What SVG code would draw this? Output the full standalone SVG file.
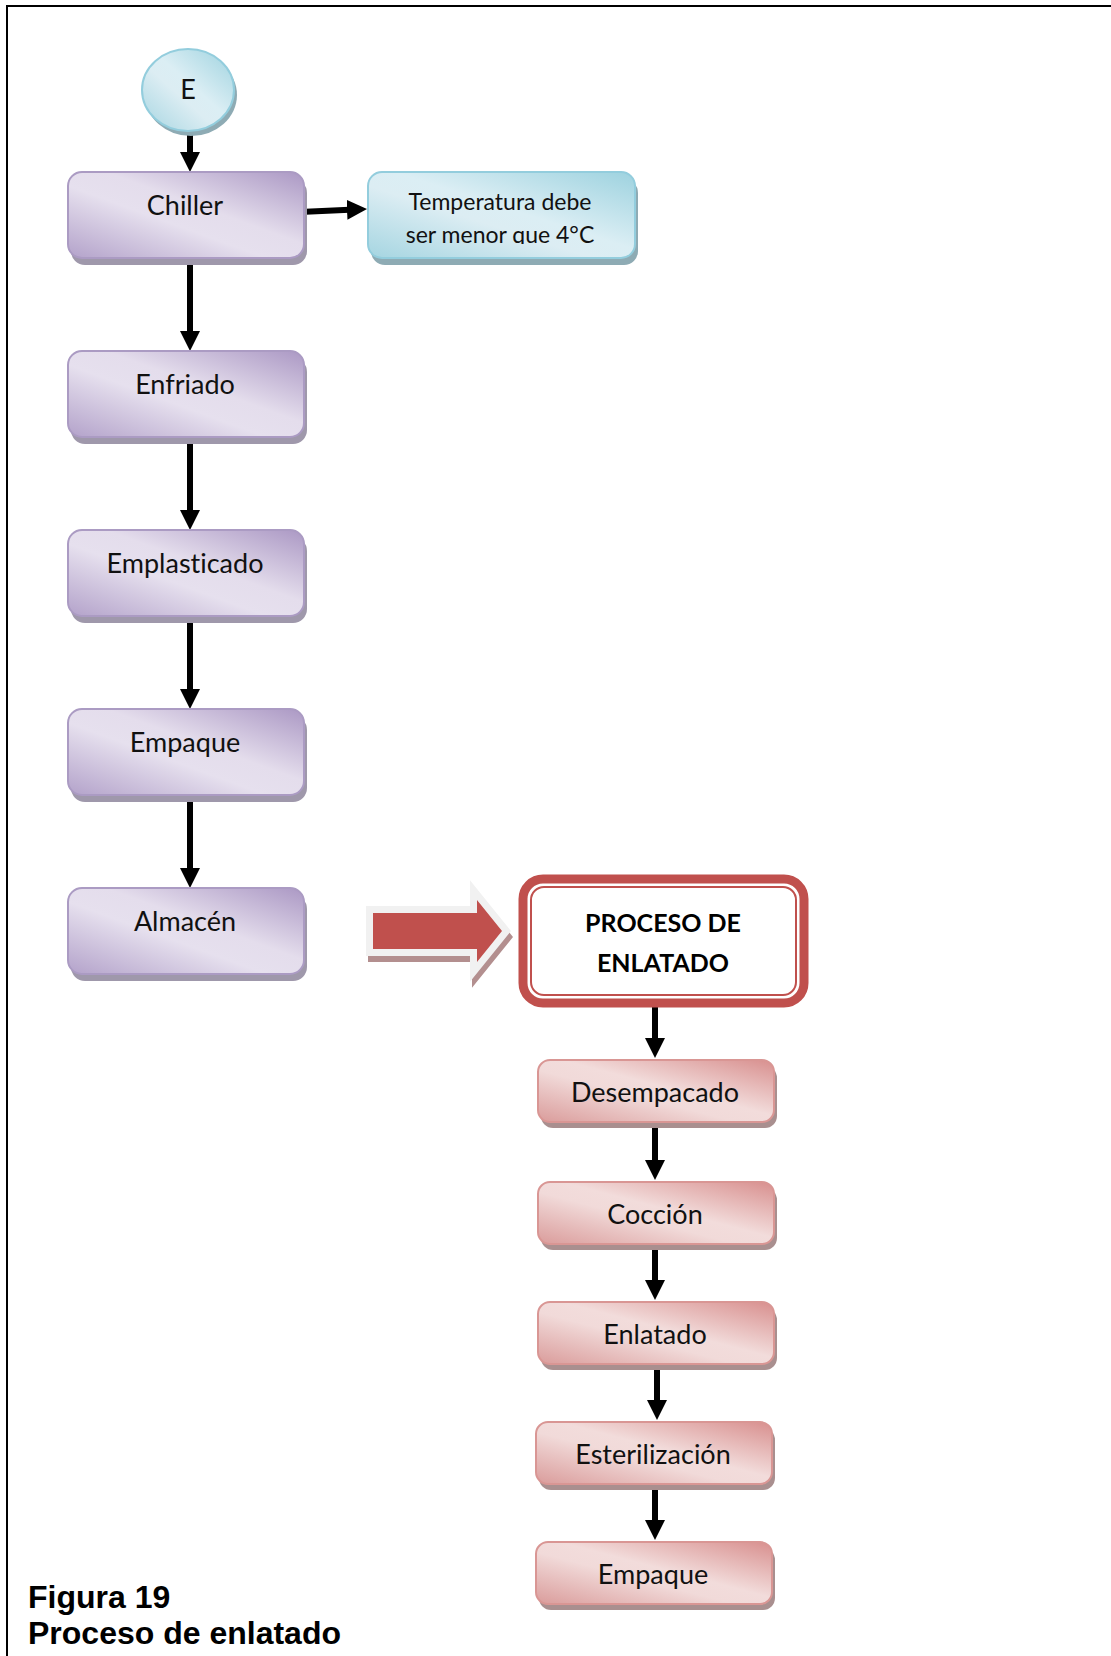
<svg xmlns="http://www.w3.org/2000/svg" width="1111" height="1656" viewBox="0 0 1111 1656">
  <defs>
    <style>
      .lbl { font-family: Lato, "Noto Sans", "DejaVu Sans", sans-serif; font-size: 27px; fill: #111; text-anchor: middle; font-variant-ligatures: none; }
      .note { font-family: Lato, "Noto Sans", "DejaVu Sans", sans-serif; font-size: 23px; fill: #111; text-anchor: middle; font-variant-ligatures: none; }
      .head { font-family: Lato, "Noto Sans", "DejaVu Sans", sans-serif; font-size: 25px; font-weight: bold; fill: #000; text-anchor: middle; }
      .cap { font-family: "Liberation Sans", Arial, sans-serif; font-size: 32px; font-weight: bold; fill: #000; }
      .pbox { fill: url(#gPurple); stroke: #ab9bc3; stroke-width: 2; }
      .pshadow { fill: #9f98ab; }
      .bbox { fill: url(#gBlue); stroke: #93cddd; stroke-width: 2; }
      .bshadow { fill: #8eabb4; }
      .rbox { fill: url(#gRed); stroke: #d99694; stroke-width: 2; }
      .rshadow { fill: #a98f8f; }
      .conn { fill: none; stroke: #000; stroke-width: 6; marker-end: url(#arrow); }
    </style>
    <linearGradient id="gPurple" x1="1" y1="0" x2="0" y2="1">
      <stop offset="0" stop-color="#ab98c4"/>
      <stop offset="0.42" stop-color="#e4ddec"/>
      <stop offset="0.58" stop-color="#e6e0ee"/>
      <stop offset="1" stop-color="#b3a2ca"/>
    </linearGradient>
    <linearGradient id="gBlue" x1="1" y1="0" x2="0" y2="1">
      <stop offset="0" stop-color="#9dd2df"/>
      <stop offset="0.45" stop-color="#dbeef4"/>
      <stop offset="0.58" stop-color="#dcedf3"/>
      <stop offset="1" stop-color="#a5d5e1"/>
    </linearGradient>
    <linearGradient id="gRed" x1="1" y1="0" x2="0" y2="1">
      <stop offset="0" stop-color="#d88f8e"/>
      <stop offset="0.45" stop-color="#f2dcdb"/>
      <stop offset="0.58" stop-color="#f1dad9"/>
      <stop offset="1" stop-color="#da9c9b"/>
    </linearGradient>
    <marker id="arrow" viewBox="0 0 20 20" refX="8" refY="10" markerWidth="20" markerHeight="20" markerUnits="userSpaceOnUse" orient="auto">
      <path d="M0,0 L20,10 L0,20 z" fill="#000"/>
    </marker>
    <clipPath id="noteClip">
      <rect x="368" y="172" width="267" height="72"/>
    </clipPath>
  </defs>

  <!-- page frame -->
  <g id="frame" stroke="#000" stroke-width="2" fill="none">
    <line x1="7" y1="6" x2="1111" y2="6"/>
    <line x1="7" y1="5" x2="7" y2="1656"/>
  </g>

  <!-- connectors -->
  <g id="connectors">
    <path class="conn" d="M300,212 L355,209.5"/>
    <path class="conn" d="M190,133 V160"/>
    <path class="conn" d="M190,260 V339"/>
    <path class="conn" d="M190,439 V518"/>
    <path class="conn" d="M190,618 V697"/>
    <path class="conn" d="M190,797 V876"/>
    <path class="conn" d="M655,1005 V1046"/>
    <path class="conn" d="M655,1124 V1168"/>
    <path class="conn" d="M655,1246 V1288"/>
    <path class="conn" d="M657,1366 V1408"/>
    <path class="conn" d="M655,1486 V1528"/>
  </g>

  <!-- start terminal -->
  <g id="node-E">
    <ellipse cx="191" cy="95" rx="46" ry="41" class="bshadow"/>
    <ellipse cx="188" cy="90" rx="46" ry="41" class="bbox"/>
    <text x="188" y="99" class="lbl">E</text>
  </g>

  <g id="node-chiller">
    <rect x="71" y="179" width="236" height="86" rx="14" class="pshadow"/>
    <rect x="68" y="172" width="236" height="86" rx="14" class="pbox"/>
    <text x="185" y="215" class="lbl">Chiller</text>
  </g>

  <g id="node-temperatura">
    <rect x="371" y="179" width="267" height="86" rx="14" class="bshadow"/>
    <rect x="368" y="172" width="267" height="86" rx="14" class="bbox"/>
    <g clip-path="url(#noteClip)">
      <text x="500" y="210" class="note">Temperatura debe</text>
      <text x="500" y="243" class="note">ser menor que 4°C</text>
    </g>
  </g>

  <g id="node-enfriado">
    <rect x="71" y="358" width="236" height="86" rx="14" class="pshadow"/>
    <rect x="68" y="351" width="236" height="86" rx="14" class="pbox"/>
    <text x="185" y="394" class="lbl">Enfriado</text>
  </g>

  <g id="node-emplasticado">
    <rect x="71" y="537" width="236" height="86" rx="14" class="pshadow"/>
    <rect x="68" y="530" width="236" height="86" rx="14" class="pbox"/>
    <text x="185" y="573" class="lbl">Emplasticado</text>
  </g>

  <g id="node-empaque-1">
    <rect x="71" y="716" width="236" height="86" rx="14" class="pshadow"/>
    <rect x="68" y="709" width="236" height="86" rx="14" class="pbox"/>
    <text x="185" y="752" class="lbl">Empaque</text>
  </g>

  <g id="node-almacen">
    <rect x="71" y="895" width="236" height="86" rx="14" class="pshadow"/>
    <rect x="68" y="888" width="236" height="86" rx="14" class="pbox"/>
    <text x="185" y="931" class="lbl">Almacén</text>
  </g>

  <!-- block arrow leading into the canning stage -->
  <g id="block-arrow" stroke-linejoin="miter" stroke-miterlimit="10">
    <path d="M373,913 H477 V900 L502,931 L477,962 V949 H373 z" fill="#b38f8f" stroke="#b38f8f" stroke-width="14" transform="translate(2,6)"/>
    <path d="M373,913 H477 V900 L502,931 L477,962 V949 H373 z" fill="#c0504d" stroke="#f1f1f1" stroke-width="14"/>
    <path d="M373,913 H477 V900 L502,931 L477,962 V949 H373 z" fill="#c0504d"/>
  </g>

  <g id="node-proceso">
    <rect x="523" y="879" width="281" height="124" rx="20" fill="#fff" stroke="#c0504d" stroke-width="9"/>
    <rect x="531" y="887" width="265" height="108" rx="13" fill="none" stroke="#c0504d" stroke-width="2"/>
    <text x="663" y="932" class="head">PROCESO DE</text>
    <text x="663" y="972" class="head">ENLATADO</text>
  </g>

  <g id="node-desempacado">
    <rect x="541" y="1066" width="236" height="62" rx="12" class="rshadow"/>
    <rect x="538" y="1060" width="236" height="62" rx="12" class="rbox"/>
    <text x="655" y="1102" class="lbl">Desempacado</text>
  </g>

  <g id="node-coccion">
    <rect x="541" y="1188" width="236" height="62" rx="12" class="rshadow"/>
    <rect x="538" y="1182" width="236" height="62" rx="12" class="rbox"/>
    <text x="655" y="1224" class="lbl">Cocción</text>
  </g>

  <g id="node-enlatado">
    <rect x="541" y="1308" width="236" height="62" rx="12" class="rshadow"/>
    <rect x="538" y="1302" width="236" height="62" rx="12" class="rbox"/>
    <text x="655" y="1344" class="lbl">Enlatado</text>
  </g>

  <g id="node-esterilizacion">
    <rect x="539" y="1428" width="236" height="62" rx="12" class="rshadow"/>
    <rect x="536" y="1422" width="236" height="62" rx="12" class="rbox"/>
    <text x="653" y="1464" class="lbl">Esterilización</text>
  </g>

  <g id="node-empaque-2">
    <rect x="539" y="1548" width="236" height="62" rx="12" class="rshadow"/>
    <rect x="536" y="1542" width="236" height="62" rx="12" class="rbox"/>
    <text x="653" y="1584" class="lbl">Empaque</text>
  </g>

  <!-- caption -->
  <g id="caption">
    <text x="28" y="1608" class="cap">Figura 19</text>
    <text x="28" y="1644" class="cap">Proceso de enlatado</text>
  </g>
</svg>
